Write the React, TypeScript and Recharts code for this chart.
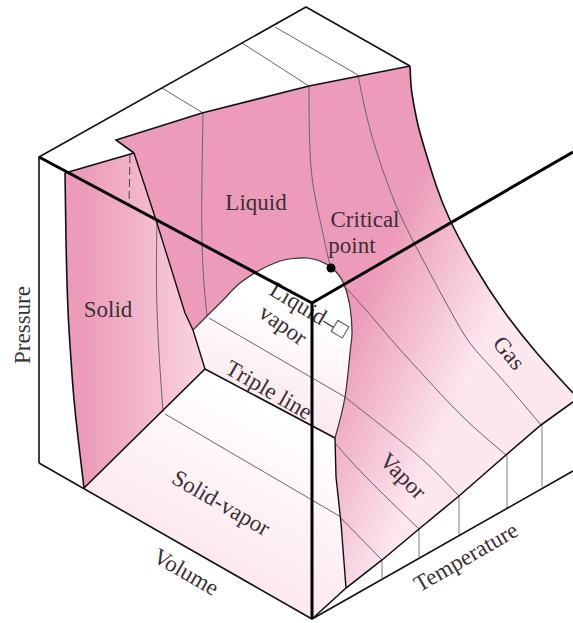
import { Scatter, ScatterChart, XAxis, YAxis } from "recharts";

const WIDTH = 573;
const HEIGHT = 623;
const FONT = '"Liberation Serif", serif';

type Pt = { x: number; y: number };
type Label = Pt & { text: string; angle: number };

const toPts = (rows: number[][]): Pt[] => rows.map(([x, y]) => ({ x, y }));

// curved edges of the surface
const rightCurve = [[410, 66], [411, 85], [413, 100], [418, 125], [425, 150], [436, 185], [450, 220], [474, 265], [503, 310], [536, 352], [573, 393]];
const domeCurve = [[193, 330], [203, 320], [213, 310], [225, 298], [240, 283], [260, 270], [280, 261], [293, 258.5], [307, 258], [320, 261], [332, 268], [343, 282], [350, 307], [352, 333], [350, 353], [345, 397], [335, 438]];
const vaporEdgeCurve = [[335, 438], [336, 477], [341, 523], [346, 588]];
const solidLeftCurve = [[65, 173], [66, 240], [68, 310], [71, 360], [75, 410], [84, 488]];
const foldCurve = [[134, 153], [156, 220], [185, 313], [193, 330], [205, 369]];
const baseCurve = [[312, 619], [346, 588], [382, 560], [419, 529], [459, 496], [506, 455], [541, 425], [573, 402]];

// surfaces
const solidSurface = toPts([...solidLeftCurve, [205, 369], ...[...foldCurve].reverse()]);
const fluidSurface = toPts([
    [116, 140], [202, 113], [309, 86],
    ...rightCurve,
    ...[...baseCurve].reverse().slice(0, 7),
    ...[...vaporEdgeCurve].reverse(),
    ...[...domeCurve].reverse(),
    [185, 313], [156, 220], [134, 153],
]);
const domeRegion = toPts([...domeCurve, [205, 369]]);
const solidVaporRegion = toPts([[205, 369], ...vaporEdgeCurve, [312, 619], [84, 488]]);

// outlines
const boxOutline = toPts([[39, 463], [39, 157], [306, 7], [410, 66]]);
const boxBottom = toPts([[39, 463], [312, 619], [573, 471]]);
const frontLeft = toPts([[39, 157], [312, 303]]);
const frontRight = toPts([[312, 303], [573, 152]]);
const frontDown = toPts([[312, 303], [312, 619]]);
const fluidTop = toPts([[134, 153], [116, 140], [202, 113], [309, 86], [410, 66]]);
const solidTop = toPts([[134, 153], [65, 173]]);
const solidBase = toPts([[84, 488], [205, 369], [335, 438]]);

// isotherms and tie lines
const thinStraight = [
    [[162, 88], [203, 113]],
    [[242, 43], [309, 86]],
    [[275, 27], [358, 75]],
    [[209, 318], [345, 397]],
    [[165, 414], [341, 517]],
].map(toPts);
const thinCurved = [
    [[203, 113], [202, 240], [207, 316]],
    [[309, 86], [311, 167], [320, 220], [328, 257], [331, 268]],
    [[345, 287], [366, 310], [396, 345], [426, 378], [463, 417], [506, 455]],
    [[358, 75], [371, 133], [390, 190], [411, 237], [450, 310], [473, 347], [500, 377], [541, 425]],
    [[345, 397], [383, 427], [423, 460], [459, 496]],
    [[335, 443], [366, 477], [419, 529]],
    [[340, 517], [382, 560]],
    [[157, 220], [157, 310], [163, 412]],
].map(toPts);
const dashedLine = toPts([[130, 155], [129, 205]]);
const baseTicks = [
    [[382, 560], [382, 578]],
    [[419, 529], [419, 557]],
    [[459, 496], [459, 535]],
    [[507, 455], [507, 508]],
    [[542, 425], [542, 487]],
].map(toPts);

const criticalPoint = toPts([[331, 268]]);

const labels: Label[] = [
    { x: 256, y: 202, text: "Liquid", angle: 0 },
    { x: 365, y: 219, text: "Critical", angle: 0 },
    { x: 352, y: 245, text: "point", angle: 0 },
    { x: 108, y: 309, text: "Solid", angle: 0 },
    { x: 22, y: 325, text: "Pressure", angle: -90 },
    { x: 186, y: 572, text: "Volume", angle: 30 },
    { x: 466, y: 557, text: "Temperature", angle: -30 },
    { x: 221, y: 503, text: "Solid-vapor", angle: 30 },
    { x: 269, y: 390, text: "Triple line", angle: 30 },
    { x: 403, y: 476, text: "Vapor", angle: 45 },
    { x: 509, y: 353, text: "Gas", angle: 50 },
    { x: 309, y: 310, text: "Liquid–□", angle: 31 },
    { x: 283, y: 325, text: "vapor", angle: 35 },
];

const renderPolygon = (fill: string) => (props: { points?: Pt[] }) => (
    <polygon points={(props.points ?? []).map((p) => `${p.x},${p.y}`).join(" ")} fill={fill} stroke="none" />
);

const renderLabel = (props: { cx?: number; cy?: number; payload?: Label }) => {
    const { cx = 0, cy = 0, payload } = props;
    if (!payload) return <g />;
    return (
        <text
            x={cx}
            y={cy}
            transform={`rotate(${payload.angle} ${cx} ${cy})`}
            textAnchor="middle"
            dominantBaseline="central"
            fontFamily={FONT}
            fontSize={23}
            fill="#3a3034"
        >
            {payload.text}
        </text>
    );
};

const noDot = () => <g />;

const lineSeries = (key: string, data: Pt[], stroke: string, width: number, curved = false, dash?: string) => (
    <Scatter
        key={key}
        data={data}
        line={{ stroke, strokeWidth: width, strokeDasharray: dash }}
        lineJointType={curved ? "natural" : "linear"}
        shape={noDot}
        isAnimationActive={false}
    />
);

const polySeries = (key: string, data: Pt[], fill: string) => (
    <Scatter key={key} data={data} line={renderPolygon(fill) as never} shape={noDot} isAnimationActive={false} />
);

export default function App() {
    return (
        <div style={{ position: "absolute", left: 0, top: 0, width: WIDTH, height: HEIGHT, background: "#fff" }}>
            <ScatterChart width={WIDTH} height={HEIGHT} margin={{ top: 0, right: 0, bottom: 0, left: 0 }}>
                <defs>
                    <linearGradient id="fluid" gradientUnits="userSpaceOnUse" x1={350} y1={333} x2={466} y2={385}>
                        <stop offset="0%" stopColor="#ec9cba" />
                        <stop offset="100%" stopColor="#fce7ef" />
                    </linearGradient>
                    <linearGradient id="solid" gradientUnits="userSpaceOnUse" x1={85} y1={0} x2={195} y2={0}>
                        <stop offset="0%" stopColor="#ec9cba" />
                        <stop offset="100%" stopColor="#f8cfdd" />
                    </linearGradient>
                    <linearGradient id="dome" gradientUnits="userSpaceOnUse" x1={250} y1={420} x2={285} y2={310}>
                        <stop offset="0%" stopColor="#fbe6ee" />
                        <stop offset="100%" stopColor="#ffffff" />
                    </linearGradient>
                    <linearGradient id="solidVapor" gradientUnits="userSpaceOnUse" x1={190} y1={570} x2={270} y2={410}>
                        <stop offset="0%" stopColor="#fce6ee" />
                        <stop offset="100%" stopColor="#ffffff" />
                    </linearGradient>
                </defs>
                <XAxis type="number" dataKey="x" domain={[0, WIDTH]} hide />
                <YAxis type="number" dataKey="y" domain={[0, HEIGHT]} reversed hide />

                {polySeries("solid", solidSurface, "url(#solid)")}
                {polySeries("dome", domeRegion, "url(#dome)")}
                {polySeries("solidVapor", solidVaporRegion, "url(#solidVapor)")}
                {polySeries("fluid", fluidSurface, "url(#fluid)")}

                {thinStraight.map((line, i) => lineSeries(`straight${i}`, line, "#6a6468", 1))}
                {thinCurved.map((line, i) => lineSeries(`curved${i}`, line, "#6a6468", 1, true))}
                {baseTicks.map((line, i) => lineSeries(`tick${i}`, line, "#a8a8a8", 1.5))}
                {lineSeries("dashed", dashedLine, "#4a4448", 1, false, "8 4")}

                {lineSeries("boxOutline", boxOutline, "#111", 1.6)}
                {lineSeries("boxBottom", boxBottom, "#111", 1.6)}
                {lineSeries("fluidTop", fluidTop, "#111", 1.6)}
                {lineSeries("rightCurve", toPts(rightCurve), "#111", 1.6, true)}
                {lineSeries("baseCurve", toPts(baseCurve), "#111", 1.6)}
                {lineSeries("solidTop", solidTop, "#111", 1.6)}
                {lineSeries("solidLeft", toPts(solidLeftCurve), "#111", 1.6, true)}
                {lineSeries("solidBase", solidBase, "#111", 1.6)}
                {lineSeries("fold", toPts(foldCurve), "#111", 1.4)}
                {lineSeries("domeOutline", toPts(domeCurve), "#333", 1.2, true)}
                {lineSeries("vaporEdge", toPts(vaporEdgeCurve), "#111", 1.4)}

                <Scatter data={labels} shape={renderLabel as never} isAnimationActive={false} />

                {lineSeries("frontLeft", frontLeft, "#000", 3)}
                {lineSeries("frontRight", frontRight, "#000", 3)}
                {lineSeries("frontDown", frontDown, "#000", 3)}

                <Scatter data={criticalPoint} shape={(p: { cx?: number; cy?: number }) => <circle cx={p.cx} cy={p.cy} r={4.5} fill="#000" />} isAnimationActive={false} />
            </ScatterChart>
        </div>
    );
}
